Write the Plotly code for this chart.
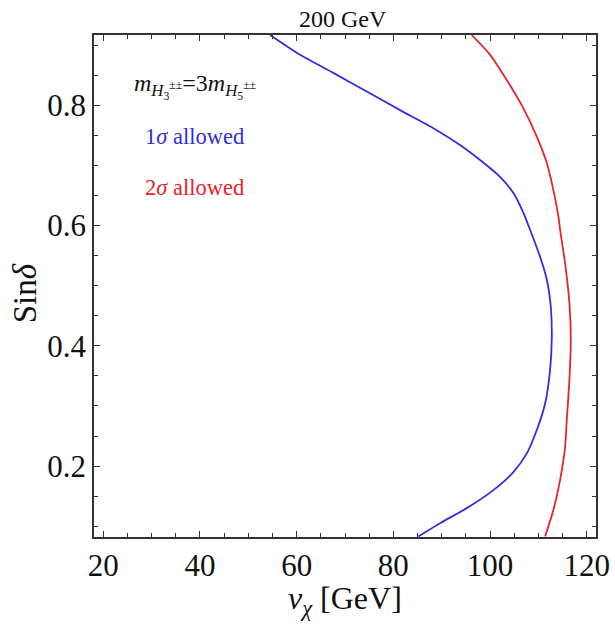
import plotly.graph_objects as go

# 1-sigma allowed contour (v_chi in GeV, sin(delta))
blue_vchi = [54.50, 60.71, 67.59, 74.50, 81.39, 88.27, 93.78, 97.93, 102.06, 104.82,
             106.89, 108.27, 110.34, 111.73, 112.55, 112.76, 112.41, 111.38, 109.66,
             107.59, 104.82, 100.68, 95.18, 89.66, 85.17]
blue_sind = [0.917, 0.884, 0.854, 0.823, 0.792, 0.762, 0.734, 0.709, 0.681, 0.654,
             0.621, 0.593, 0.548, 0.510, 0.465, 0.415, 0.360, 0.304, 0.260,
             0.221, 0.190, 0.160, 0.130, 0.105, 0.083]

# 2-sigma allowed contour
red_vchi = [96.21, 100.00, 103.45, 106.89, 109.66, 111.73, 113.09, 114.13, 114.48,
            115.51, 116.40, 116.69, 116.40, 115.86, 115.51, 114.48, 113.09, 111.38]
red_sind = [0.917, 0.884, 0.842, 0.795, 0.748, 0.704, 0.659, 0.615, 0.593,
            0.537, 0.471, 0.410, 0.343, 0.277, 0.232, 0.177, 0.127, 0.083]

x_ticks = [20, 40, 60, 80, 100, 120]
y_ticks = [0.2, 0.4, 0.6, 0.8]

SERIF = "Liberation Serif, Times New Roman, serif"
BLUE = "#3030d8"
RED = "#e8242c"

fig = go.Figure()
fig.add_trace(go.Scatter(x=blue_vchi, y=blue_sind, mode="lines",
                         line=dict(color=BLUE, width=1.8, shape="spline", smoothing=0.6),
                         showlegend=False, hoverinfo="skip"))
fig.add_trace(go.Scatter(x=red_vchi, y=red_sind, mode="lines",
                         line=dict(color=RED, width=1.8, shape="spline", smoothing=0.6),
                         showlegend=False, hoverinfo="skip"))

axis_common = dict(
    automargin=False,
    showline=True, mirror="allticks", linecolor="#333333", linewidth=1.5,
    ticks="inside", ticklen=6, tickwidth=1, tickcolor="#333333",
    showgrid=False, zeroline=False,
    tickfont=dict(family=SERIF, size=31, color="#111111"),
)

fig.update_xaxes(range=[18.1, 121.9], tickvals=x_ticks,
                 minor=dict(dtick=5, tick0=0, ticks="inside", ticklen=4,
                            tickcolor="#333333", showgrid=False),
                 **axis_common)
fig.update_yaxes(range=[0.082, 0.917], tickvals=y_ticks, tickformat=".1f",
                 minor=dict(dtick=0.05, tick0=0, ticks="inside", ticklen=4,
                            tickcolor="#333333", showgrid=False),
                 **axis_common)

annotations = [
    dict(text="200 GeV", x=0.496, y=1.032, font=dict(size=24)),
    dict(text="Sin<i>δ</i>", x=-0.137, y=0.486, textangle=-90, font=dict(size=33)),
    dict(text="<i>ν</i><sub><i>χ</i></sub> [GeV]", x=0.5, y=-0.126, font=dict(size=32)),
    dict(text="<i>m</i><sub><i>H</i><sub>3</sub><sup>±±</sup></sub>=3<i>m</i><sub><i>H</i><sub>5</sub><sup>±±</sup></sub>",
         x=0.201, y=0.898, font=dict(size=24)),
    dict(text="1<i>σ</i> allowed", x=0.201, y=0.797, font=dict(size=22.5, color=BLUE)),
    dict(text="2<i>σ</i> allowed", x=0.201, y=0.697, font=dict(size=22.5, color=RED)),
]
for a in annotations:
    a.setdefault("font", {})
    a["font"].setdefault("color", "#111111")
    a["font"]["family"] = SERIF
    fig.add_annotation(xref="paper", yref="paper", showarrow=False,
                       xanchor="center", yanchor="middle", **a)

fig.update_layout(
    template="none",
    width=615, height=629,
    margin=dict(l=94, r=19, t=35, b=92),
    paper_bgcolor="white", plot_bgcolor="white",
    font=dict(family=SERIF, color="#111111"),
)

fig.write_html("out.html")
